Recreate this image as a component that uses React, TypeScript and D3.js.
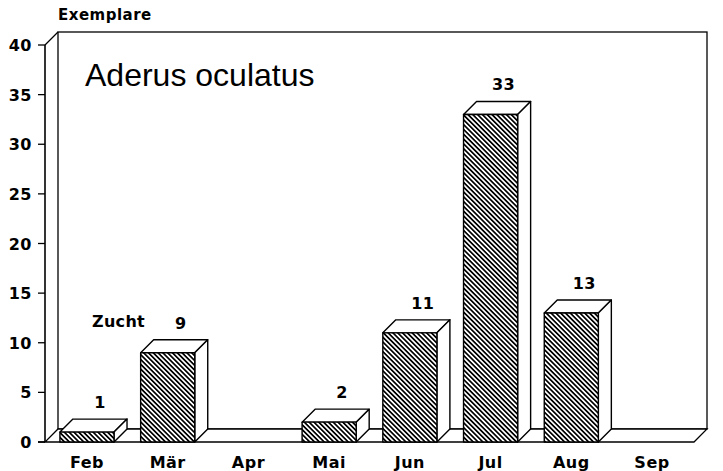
import React from 'react';
import * as d3 from 'd3';

// Monthly counts of Aderus oculatus
const months = ['Feb', 'Mär', 'Apr', 'Mai', 'Jun', 'Jul', 'Aug', 'Sep'];
const counts = [1, 9, 0, 2, 11, 33, 13, 0];
const yTicks = [0, 5, 10, 15, 20, 25, 30, 35, 40];

const W = 723;
const H = 471;
const DX = 13; // depth offset of the 3D box
const DY = -13;

const labelFont = "'DejaVu Sans', sans-serif";

const App = () => {
  const x = d3
    .scaleBand<string>()
    .domain(months)
    .range([45, 694])
    .paddingInner(0.33)
    .paddingOuter(0.185);

  const y = d3.scaleLinear().domain([0, 40]).range([442, 45]);

  const x0 = 45;
  const x1 = 694;
  const yBase = y(0);
  const yTop = y(40);

  const floor = [
    [x0, yBase],
    [x1, yBase],
    [x1 + DX, yBase + DY],
    [x0 + DX, yBase + DY],
  ];

  const pts = (p: number[][]) => p.map((d) => d.join(',')).join(' ');

  return (
    <svg
      width={W}
      height={H}
      style={{ position: 'absolute', left: 0, top: 0, background: '#fff' }}
    >
      <defs>
        <pattern
          id="hatch"
          patternUnits="userSpaceOnUse"
          width="4"
          height="3.4"
          patternTransform="rotate(45)"
        >
          <rect width="4" height="3.4" fill="#fff" />
          <line x1="0" y1="1.7" x2="4" y2="1.7" stroke="#000" strokeWidth="1.7" />
        </pattern>
      </defs>

      {/* back wall */}
      <rect
        x={x0 + DX}
        y={yTop + DY}
        width={x1 - x0}
        height={yBase - yTop}
        fill="#fff"
        stroke="#000"
        strokeWidth={1.3}
      />

      {/* floor */}
      <polygon points={pts(floor)} fill="#fff" stroke="#000" strokeWidth={1.3} />

      {/* left wall edges */}
      <line x1={x0} y1={yTop} x2={x0} y2={yBase} stroke="#000" strokeWidth={1.6} />
      <line x1={x0} y1={yTop} x2={x0 + DX} y2={yTop + DY} stroke="#000" strokeWidth={1.3} />
      <line x1={x0 - 7} y1={yBase} x2={x0} y2={yBase} stroke="#000" strokeWidth={1.6} />

      {/* y ticks */}
      {yTicks.map((t) => (
        <g key={t}>
          <line x1={x0 - 7} x2={x0} y1={y(t)} y2={y(t)} stroke="#000" strokeWidth={1.3} />
          <text
            x={32}
            y={y(t) + 6}
            textAnchor="end"
            fontFamily={labelFont}
            fontWeight="bold"
            fontSize={16}
            letterSpacing={0.5}
          >
            {t}
          </text>
        </g>
      ))}

      {/* bars */}
      {months.map((m, i) => {
        const v = counts[i];
        if (!v) return null;
        const bx = x(m)!;
        const bw = x.bandwidth();
        const by = y(v);
        const top = [
          [bx, by],
          [bx + bw, by],
          [bx + bw + DX, by + DY],
          [bx + DX, by + DY],
        ];
        const side = [
          [bx + bw, by],
          [bx + bw + DX, by + DY],
          [bx + bw + DX, yBase + DY],
          [bx + bw, yBase],
        ];
        return (
          <g key={m} stroke="#000" strokeWidth={1.4} strokeLinejoin="round">
            <polygon points={pts(top)} fill="#fff" />
            <polygon points={pts(side)} fill="#fff" />
            <rect x={bx} y={by} width={bw} height={yBase - by} fill="url(#hatch)" />
            <text
              x={bx + bw / 2 + DX}
              y={by + DY - 11}
              textAnchor="middle"
              stroke="none"
              fontFamily={labelFont}
              fontWeight="bold"
              fontSize={16}
              letterSpacing={0.5}
            >
              {v}
            </text>
          </g>
        );
      })}

      {/* x labels */}
      {months.map((m) => (
        <text
          key={m}
          x={x(m)! + x.bandwidth() / 2}
          y={468}
          textAnchor="middle"
          fontFamily={labelFont}
          fontWeight="bold"
          fontSize={16}
          letterSpacing={0.5}
        >
          {m}
        </text>
      ))}

      {/* titles */}
      <text x={58} y={20} fontFamily={labelFont} fontWeight="bold" fontSize={15} letterSpacing={0.5}>
        Exemplare
      </text>
      <text x={85} y={86} fontFamily="'Liberation Sans', Arial, sans-serif" fontSize={32}>
        Aderus oculatus
      </text>
      <text x={92} y={327} fontFamily={labelFont} fontWeight="bold" fontSize={16} letterSpacing={0.3}>
        Zucht
      </text>
    </svg>
  );
};

export default App;
